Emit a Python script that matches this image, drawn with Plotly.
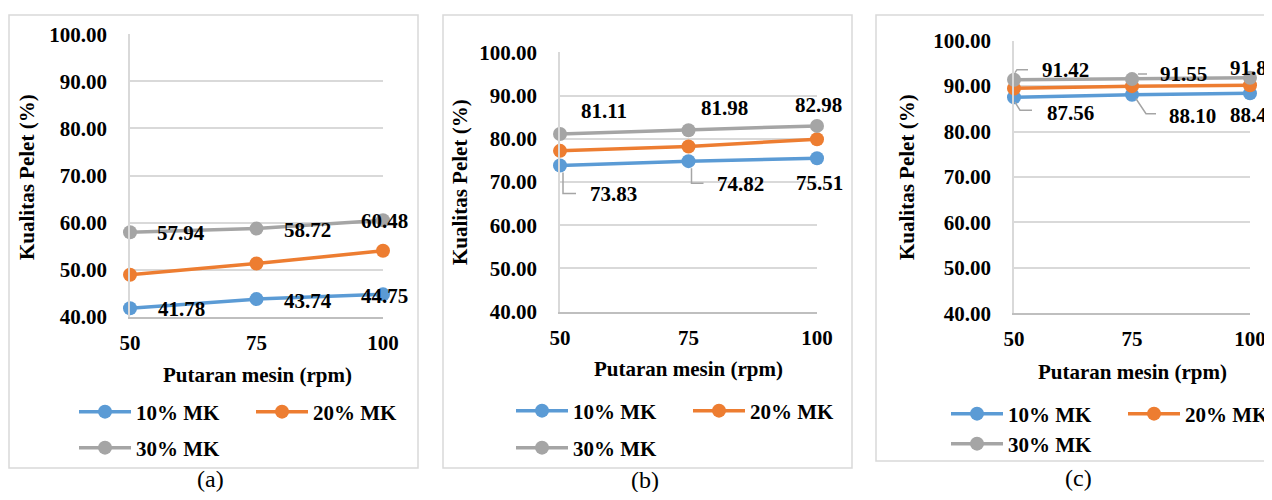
import plotly.graph_objects as go

# page content starts after the default 8px body margin; keep the figure inside the 1272x500 window
OFF = 8
W, H = 1272 - OFF, 500 - 2 * OFF

# ---------------- data ----------------
rpm = [50, 75, 100]
series_names = ["10% MK", "20% MK", "30% MK"]
series_colors = ["#5B9BD5", "#ED7D31", "#A5A5A5"]

a_10 = [41.78, 43.74, 44.75]
a_20 = [48.9, 51.3, 54.0]
a_30 = [57.94, 58.72, 60.48]

b_10 = [73.83, 74.82, 75.51]
b_20 = [77.2, 78.2, 79.9]
b_30 = [81.11, 81.98, 82.98]

c_10 = [87.56, 88.10, 88.41]
c_20 = [89.5, 90.0, 90.2]
c_30 = [91.42, 91.55, 91.82]

y_ticks = [40, 50, 60, 70, 80, 90, 100]
x_ticks = [50, 75, 100]
captions = ["(a)", "(b)", "(c)"]
y_title = "Kualitas Pelet (%)"
x_title = "Putaran mesin (rpm)"

FONT = "Liberation Serif"
GRID = "#D9D9D9"


def px(v):
    return (v - OFF) / W


def py(v):
    return 1 - (v - OFF) / H


# ---------------- layout geometry (page pixels) ----------------
panels = [
    dict(data=[a_10, a_20, a_30], plot=(130, 383, 34.3, 316.7), border=(9, 418, 15, 468),
         ytitle=(27, 177), xtitle=(257, 375), leg1=412, leg2=448, legtext=136, cap=(210, 479),
         lab={0: [(51, -1), (51, -1.5), (1.5, -1.5)], 2: [(51, -1), (51, -1), (1.5, -1)]},
         leaders={}),
    dict(data=[b_10, b_20, b_30], plot=(560, 817, 52.3, 311.7), border=(443, 852, 15, 468),
         ytitle=(460, 182), xtitle=(688, 369), leg1=411, leg2=448, legtext=573, cap=(645, 480),
         lab={0: [(53, -28.5), (52, -23), (2, -25)], 2: [(44, 23), (36, 22), (1, 21)]},
         leaders={0: {0: "M 3,-7 L 3,-28 L 16,-28", 1: "M 3,-7 L 3,-22 L 15,-22"}}),
    dict(data=[c_10, c_20, c_30], plot=(1014, 1250, 40.7, 313.3), border=(876, 1290, 15, 461),
         ytitle=(907, 177), xtitle=(1132, 372), leg1=414, leg2=444, legtext=1008, cap=(1078, 478),
         lab={0: [(56, -16), (60, -21), (3.5, -22)], 2: [(51, 10), (51, 5), (3.5, 10)]},
         leaders={0: {0: "M 1,-5 L 6,-13 L 18,-13", 1: "M 4,-4 L 14,-19 L 24,-19"},
                  2: {0: "M 1,7 L 3,10 L 14,10", 1: "M 6,5 L 15,5"}}),
]

fig = go.Figure()
annotations = []
shapes = []
tfont = dict(family=FONT, size=21, color="black", weight="bold")

for p, pan in enumerate(panels):
    sfx = "" if p == 0 else str(p + 1)
    xa, ya = "x" + sfx, "y" + sfx
    x0, x1, y0, y1 = pan["plot"]
    leg_a = "legend" if p == 0 else "legend" + str(2 * p + 1)
    leg_b = "legend" + str(2 * p + 2)
    for s, vals in enumerate(pan["data"]):
        fig.add_trace(go.Scatter(
            x=rpm, y=vals, name=series_names[s], mode="lines+markers",
            line=dict(color=series_colors[s], width=3.5),
            marker=dict(color=series_colors[s], size=14),
            xaxis=xa, yaxis=ya, cliponaxis=False, hoverinfo="skip",
            legend=leg_a if s < 2 else leg_b,
        ))
    for s, offs in pan["lab"].items():
        vals = pan["data"][s]
        for i, (dx, dy) in enumerate(offs):
            annotations.append(dict(
                x=rpm[i], y=vals[i], xref=xa, yref=ya, text="%.2f" % vals[i],
                showarrow=False, xanchor="center", yanchor="middle",
                xshift=dx, yshift=dy, font=tfont))
    for s, lds in pan["leaders"].items():
        vals = pan["data"][s]
        for i, path in lds.items():
            shapes.append(dict(type="path", xref=xa, yref=ya, xsizemode="pixel", ysizemode="pixel",
                               xanchor=rpm[i], yanchor=vals[i], path=path,
                               line=dict(color="#A5A5A5", width=1.5)))
    fig.layout["xaxis" + sfx] = dict(
        domain=[px(x0), px(x1)], anchor=ya, range=[50, 100], tickvals=x_ticks,
        showgrid=False, zeroline=False, showline=True, linecolor="#BFBFBF", linewidth=1.5,
        ticks="", ticklabelstandoff=6, tickfont=tfont, fixedrange=True)
    fig.layout["yaxis" + sfx] = dict(
        domain=[py(y1), py(y0)], anchor=xa, range=[40, 100], tickvals=y_ticks,
        tickformat=".2f", showgrid=True, gridcolor=GRID, gridwidth=1.5, zeroline=False,
        showline=True, linecolor=GRID, linewidth=1.5, ticks="", ticklabelstandoff=17,
        tickfont=tfont, fixedrange=True)
    annotations.append(dict(x=px(pan["ytitle"][0]), y=py(pan["ytitle"][1]), xref="paper", yref="paper",
                            text=y_title, textangle=-90, showarrow=False, xanchor="center", yanchor="middle",
                            font=tfont))
    annotations.append(dict(x=px(pan["xtitle"][0]), y=py(pan["xtitle"][1]), xref="paper", yref="paper",
                            text=x_title, showarrow=False, xanchor="center", yanchor="middle",
                            font=tfont))
    annotations.append(dict(x=px(pan["cap"][0]), y=py(pan["cap"][1]), xref="paper", yref="paper",
                            text=captions[p], showarrow=False, xanchor="center", yanchor="middle",
                            font=dict(family=FONT, size=24, color="black")))
    bx0, bx1, by0, by1 = pan["border"]
    shapes.append(dict(type="rect", xref="paper", yref="paper", x0=px(bx0), x1=px(bx1),
                       y0=py(by1), y1=py(by0), line=dict(color=GRID, width=1.5), layer="below"))
    for key, ly in ((leg_a, pan["leg1"]), (leg_b, pan["leg2"])):
        fig.layout[key] = dict(
            orientation="h", x=px(pan["legtext"] - 62), y=py(ly), xanchor="left", yanchor="middle",
            font=tfont, bgcolor="rgba(0,0,0,0)", itemwidth=52, entrywidth=110, tracegroupgap=0,
            itemclick=False, itemdoubleclick=False)

fig.update_layout(
    width=W, height=H, margin=dict(l=0, r=0, t=0, b=0, autoexpand=False),
    paper_bgcolor="white", plot_bgcolor="white",
    annotations=annotations, shapes=shapes, showlegend=True,
)

fig.write_html("out.html")
